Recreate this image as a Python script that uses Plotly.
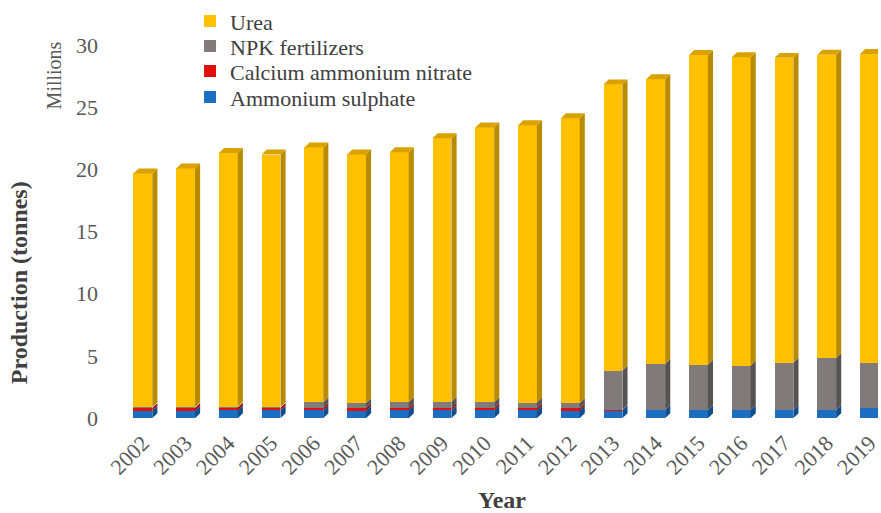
import plotly.graph_objects as go

# Fertilizer production by product, millions of tonnes
years = ["2002", "2003", "2004", "2005", "2006", "2007", "2008", "2009", "2010",
         "2011", "2012", "2013", "2014", "2015", "2016", "2017", "2018", "2019"]
ammonium_sulphate = [0.60, 0.60, 0.62, 0.62, 0.62, 0.60, 0.62, 0.62, 0.64,
                     0.62, 0.62, 0.65, 0.65, 0.65, 0.66, 0.66, 0.66, 0.82]
calcium_ammonium_nitrate = [0.22, 0.22, 0.24, 0.22, 0.22, 0.20, 0.20, 0.20, 0.18,
                            0.18, 0.16, 0.03, 0.0, 0.0, 0.0, 0.0, 0.0, 0.0]
npk_fertilizers = [0.05, 0.05, 0.05, 0.05, 0.42, 0.40, 0.45, 0.48, 0.45,
                   0.45, 0.42, 3.15, 3.70, 3.65, 3.55, 3.80, 4.15, 3.65]
urea = [18.8, 19.2, 20.4, 20.3, 20.5, 20.0, 20.1, 21.2, 22.1,
        22.3, 22.9, 23.0, 22.9, 24.9, 24.8, 24.5, 24.4, 24.8]

y_ticks = [0, 5, 10, 15, 20, 25, 30]

# name, values, front colour, side colour, legend id, legend row (top = 0)
series = [
    ("Ammonium sulphate", ammonium_sulphate, "#1B6EC2", "#124E8C", "legend4", 3),
    ("Calcium ammonium nitrate", calcium_ammonium_nitrate, "#E01010", "#9E0A0A", "legend3", 2),
    ("NPK fertilizers", npk_fertilizers, "#807A7A", "#585353", "legend2", 1),
    ("Urea", urea, "#FFC000", "#B98B00", "legend", 0),
]

FONT = "Liberation Serif"
BAR_W = 0.44      # front face width (category units)
DEPTH_X = 0.12    # extrusion to the right (category units)
DEPTH_Y = 0.40    # extrusion upwards (millions)

x = list(range(len(years)))
fig = go.Figure()

# Front faces: stacked bars
for name, vals, front, _, leg, _row in series:
    fig.add_trace(go.Bar(
        x=x, y=vals, name=name, width=BAR_W, legend=leg,
        marker=dict(color=front, line=dict(width=0)),
    ))

# Side faces: parallelograms to the right of each stacked segment
base = [0.0] * len(x)
for name, vals, _, side, _leg, _row in series:
    px, py = [], []
    for i, v in enumerate(vals):
        y0, y1 = base[i], base[i] + v
        xr = x[i] + BAR_W / 2
        if v > 0:
            px += [xr, xr + DEPTH_X, xr + DEPTH_X, xr, xr, None]
            py += [y0, y0 + DEPTH_Y, y1 + DEPTH_Y, y1, y0, None]
        base[i] = y1
    fig.add_trace(go.Scatter(
        x=px, y=py, mode="lines", fill="toself", fillcolor=side,
        line=dict(width=0, color=side), showlegend=False, hoverinfo="skip",
    ))

# Top caps on the urea segment
tx, ty = [], []
for i, top in enumerate(base):
    xl, xr = x[i] - BAR_W / 2, x[i] + BAR_W / 2
    tx += [xl, xr, xr + DEPTH_X, xl + DEPTH_X, xl, None]
    ty += [top, top, top + DEPTH_Y, top + DEPTH_Y, top, None]
fig.add_trace(go.Scatter(
    x=tx, y=ty, mode="lines", fill="toself", fillcolor="#D9A200",
    line=dict(width=0, color="#D9A200"), showlegend=False, hoverinfo="skip",
))

# One single-entry legend per series so rows can sit closely together
ROW_TOPS = [1.0752, 1.0119, 0.9486, 0.8828]
legends = {}
for _n, _v, _f, _s, leg, row in series:
    legends[leg] = dict(
        x=0.110, y=ROW_TOPS[row], xanchor="left", yanchor="top",
        bgcolor="rgba(0,0,0,0)", itemwidth=30,
        font=dict(family=FONT, size=22, color="#404040"),
    )

fig.update_layout(
    width=881, height=513,
    margin=dict(l=105, r=0, t=30, b=88),
    barmode="stack",
    bargap=0,
    plot_bgcolor="white", paper_bgcolor="white",
    font=dict(family=FONT, color="#595959", size=20),
    showlegend=True,
    **legends,
    xaxis=dict(
        range=[-0.886, 17.2], tickmode="array", tickvals=x, ticktext=years,
        tickangle=-45, showgrid=False, zeroline=False, showline=False,
        ticks="", ticklabeloverflow="allow",
        tickfont=dict(family=FONT, size=22, color="#595959"),
    ),
    yaxis=dict(
        range=[-0.55, 31.2], tickmode="array", tickvals=y_ticks,
        showgrid=False, zeroline=False, showline=False, ticks="",
        ticklabelstandoff=6,
        tickfont=dict(family=FONT, size=22, color="#595959"),
    ),
    annotations=[
        dict(text="<b>Production (tonnes)</b>", xref="paper", yref="paper",
             x=-0.112, y=0.36, textangle=-90, showarrow=False,
             font=dict(family=FONT, size=24, color="#404040"),
             xanchor="center", yanchor="middle"),
        dict(text="Millions", xref="paper", yref="paper",
             x=-0.066, y=0.885, textangle=-90, showarrow=False,
             font=dict(family=FONT, size=20, color="#595959"),
             xanchor="center", yanchor="middle"),
        dict(text="<b>Year</b>", xref="paper", yref="paper",
             x=0.513, y=-0.19, showarrow=False,
             font=dict(family=FONT, size=24, color="#404040"),
             xanchor="center", yanchor="middle"),
    ],
)

fig.write_html("out.html")
